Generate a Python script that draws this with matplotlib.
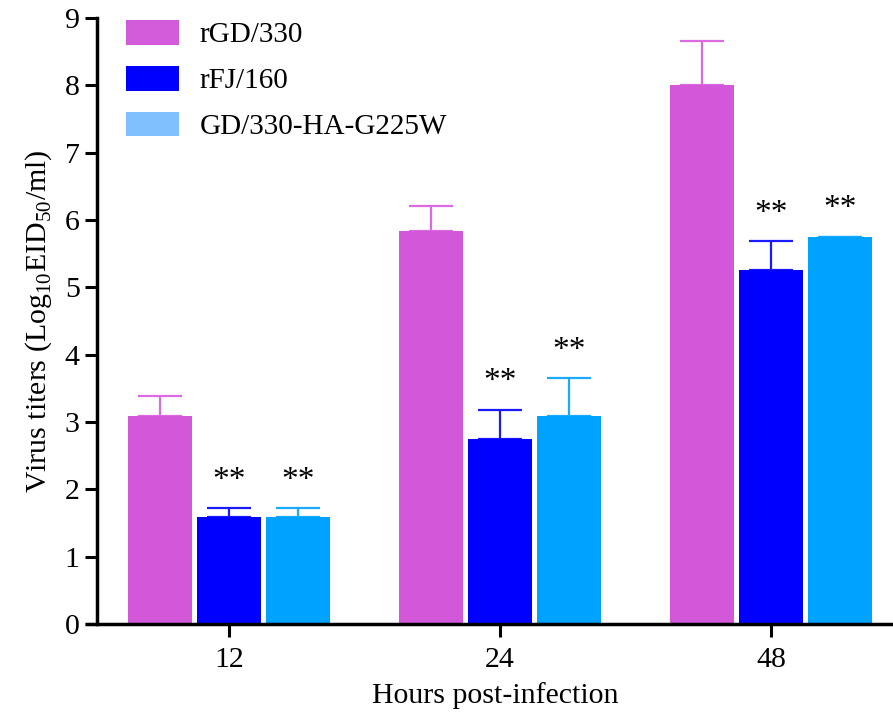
import matplotlib.pyplot as plt
from matplotlib.patches import Patch
import numpy as np

plt.rcParams['font.family'] = ['Liberation Serif', 'DejaVu Serif']
plt.rcParams['mathtext.fontset'] = 'custom'
plt.rcParams['mathtext.rm'] = 'Liberation Serif'

hours = ["12", "24", "48"]
series = ["rGD/330", "rFJ/160", "GD/330-HA-G225W"]
means = {
    "rGD/330": [3.08, 5.83, 8.0],
    "rFJ/160": [1.58, 2.75, 5.25],
    "GD/330-HA-G225W": [1.58, 3.08, 5.75],
}
errs = {
    "rGD/330": [0.30, 0.38, 0.66],
    "rFJ/160": [0.14, 0.43, 0.43],
    "GD/330-HA-G225W": [0.14, 0.57, 0.0],
}
stars = {
    "rGD/330": ["", "", ""],
    "rFJ/160": ["**", "**", "**"],
    "GD/330-HA-G225W": ["**", "**", "**"],
}

bar_colors = {"rGD/330": "#d257d9", "rFJ/160": "#0000ff", "GD/330-HA-G225W": "#00a2ff"}
err_colors = {"rGD/330": "#dc6ae2", "rFJ/160": "#1a1aff", "GD/330-HA-G225W": "#1aabff"}
legend_colors = {"rGD/330": "#d25bd9", "rFJ/160": "#0000ff", "GD/330-HA-G225W": "#7fc0ff"}

fig = plt.figure(figsize=(8.93, 7.13), dpi=100)
ax = fig.add_axes([0.1086, 0.125, 0.8914, 0.85])

x = np.arange(len(hours))
w = 0.236
step = 0.256
for i, s in enumerate(series):
    pos = x + (i - 1) * step
    ax.bar(pos, means[s], width=w, color=bar_colors[s], zorder=2)
    ax.errorbar(pos, means[s], yerr=[np.zeros(3), errs[s]], fmt='none',
                ecolor=err_colors[s], elinewidth=1.6, capsize=16, capthick=1.6, zorder=1)
    for p, m, e, t in zip(pos, means[s], errs[s], stars[s]):
        if t:
            ax.annotate(t, (p, m + e), xytext=(0, 9), textcoords='offset points',
                        ha='center', va='bottom', fontsize=24)

ax.set_xlim(-0.487, 2.45)
ax.set_ylim(0, 9)
ax.set_yticks(range(0, 10))
ax.set_xticks(x)
ax.set_xticklabels(hours)
ax.tick_params(axis='both', labelsize=21.5, width=2.2, length=9, direction='out')
ax.tick_params(axis='x', pad=8)
for side in ['top', 'right']:
    ax.spines[side].set_visible(False)
for side in ['left', 'bottom']:
    ax.spines[side].set_linewidth(2.5)
ax.spines['bottom'].set_bounds(-0.524, 2.45)

ax.set_xlabel('Hours post-infection', fontsize=21.5, labelpad=6)
ax.set_ylabel(r'Virus titers (Log$_{10}$EID$_{50}$/ml)', fontsize=21.5, labelpad=8)

handles = [Patch(facecolor=legend_colors[s], edgecolor='none') for s in series]
ax.legend(handles, series, loc='upper left', bbox_to_anchor=(0.004, 1.04), frameon=False,
          fontsize=21, handlelength=1.82, handleheight=0.93, handletextpad=0.68, labelspacing=0.6)

plt.savefig('out.png', dpi=100)
plt.close()
